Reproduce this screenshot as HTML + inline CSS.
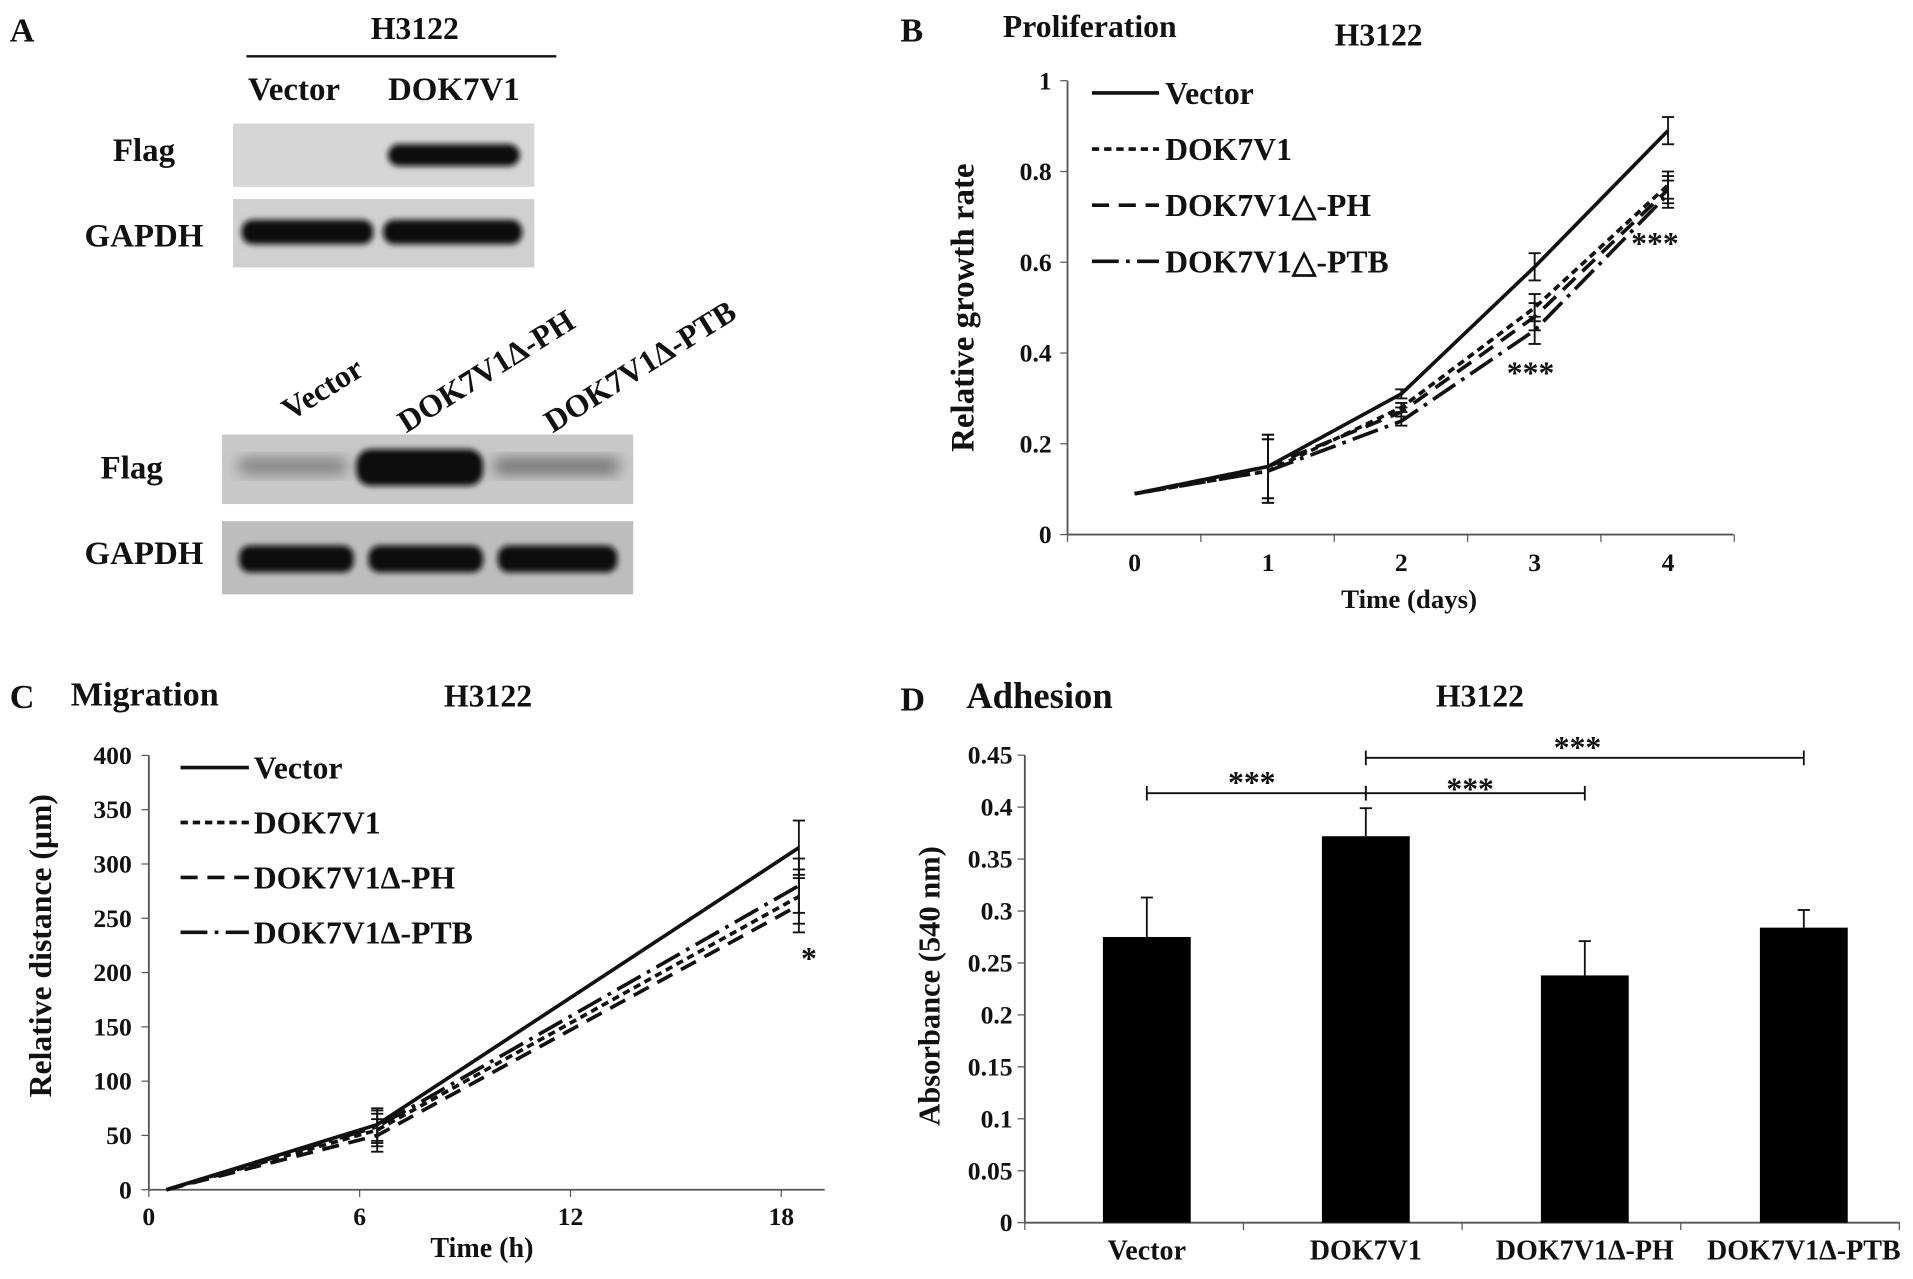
<!DOCTYPE html>
<html><head><meta charset="utf-8"><style>
html,body{margin:0;padding:0;background:#fff}
svg{display:block}
text{font-family:"Liberation Serif",serif;font-weight:bold;fill:#111}
</style></head><body>
<svg id="fig" width="1913" height="1279" viewBox="0 0 1568 1048" xmlns="http://www.w3.org/2000/svg">
<defs>
<filter id="blur" x="-20%" y="-50%" width="140%" height="200%"><feGaussianBlur stdDeviation="2.5"/></filter>
<filter id="blur2" x="-20%" y="-50%" width="140%" height="200%"><feGaussianBlur stdDeviation="6"/></filter>
</defs>
<g>
<text x="8" y="34" font-size="28">A</text>
<text x="340" y="32" font-size="26" text-anchor="middle">H3122</text>
<line x1="202" y1="46" x2="456" y2="46" stroke="#111" stroke-width="2"/>
<text x="241" y="82" font-size="27" text-anchor="middle">Vector</text>
<text x="372" y="82" font-size="27" text-anchor="middle">DOK7V1</text>
<text x="118" y="132" font-size="27" text-anchor="middle">Flag</text>
<text x="118" y="202" font-size="27" text-anchor="middle">GAPDH</text>
<rect x="191" y="101" width="247" height="52" fill="#d6d6d6"/>
<rect x="318" y="118" width="108" height="18" rx="9" fill="#111" filter="url(#blur)"/>
<rect x="191" y="163" width="247" height="56" fill="#d0d0d0"/>
<rect x="198" y="180" width="108" height="20" rx="9" fill="#111" filter="url(#blur)"/>
<rect x="314" y="180" width="114" height="20" rx="9" fill="#111" filter="url(#blur)"/>
<text transform="translate(238,345) rotate(-32)" font-size="26">Vector</text>
<text transform="translate(333,355) rotate(-32)" font-size="26">DOK7V1Δ-PH</text>
<text transform="translate(453,355) rotate(-32)" font-size="26">DOK7V1Δ-PTB</text>
<text x="108" y="392" font-size="27" text-anchor="middle">Flag</text>
<text x="118" y="462" font-size="27" text-anchor="middle">GAPDH</text>
<rect x="182" y="356" width="337" height="57" fill="#c8c8c8"/>
<rect x="195" y="376" width="90" height="12" rx="6" fill="#777" filter="url(#blur2)"/>
<rect x="292" y="368" width="104" height="30" rx="12" fill="#111" filter="url(#blur)"/>
<rect x="404" y="376" width="104" height="12" rx="6" fill="#666" filter="url(#blur2)"/>
<rect x="182" y="427" width="337" height="60" fill="#bdbdbd"/>
<rect x="196" y="447" width="94" height="22" rx="9" fill="#111" filter="url(#blur)"/>
<rect x="302" y="447" width="94" height="22" rx="9" fill="#111" filter="url(#blur)"/>
<rect x="408" y="447" width="98" height="22" rx="9" fill="#111" filter="url(#blur)"/>
</g>
<g id="pB"></g>
<g id="pC"></g>
<g id="pD"></g>
</svg>
<script>
const NS="http://www.w3.org/2000/svg";
// Panel B data
const bDays=[0,1,2,3,4];
const bVector=[0.09,0.15,0.31,0.59,0.89];
const bDok=[0.09,0.14,0.28,0.50,0.77];
const bPH=[0.09,0.15,0.27,0.48,0.76];
const bPTB=[0.09,0.14,0.25,0.45,0.75];
const bErr=[0.005,0.07,0.01,0.03,0.03];
const bYTicks=[0,0.2,0.4,0.6,0.8,1];
// Panel C data
const cTimes=[0.5,6.5,18.5];
const cVector=[0,60,315];
const cDok=[0,55,270];
const cPH=[0,50,262];
const cPTB=[0,58,280];
const cErr=[0,15,25];
const cXTicks=[0,6,12,18];
const cYTicks=[0,50,100,150,200,250,300,350,400];
// Panel D data
const dCats=["Vector","DOK7V1","DOK7V1Δ-PH","DOK7V1Δ-PTB"];
const dVals=[0.275,0.372,0.238,0.284];
const dErr=[0.038,0.027,0.033,0.017];
const dYTicks=[0,0.05,0.1,0.15,0.2,0.25,0.3,0.35,0.4,0.45];

function el(p,tag,a,txt){const e=document.createElementNS(NS,tag);for(const k in a)e.setAttribute(k,a[k]);if(txt!==undefined)e.textContent=txt;p.appendChild(e);return e;}
const dashes={solid:"",dok:"6,4",ph:"14,8",ptb:"22,6,3,6"};

(function(){
const g=document.getElementById('pB');
const X=d=>930+d*109.3, Y=v=>438-v*372;
let t;
t=el(g,'text',{x:738,y:34,'font-size':28},'B');
t=el(g,'text',{x:822,y:30,'font-size':26},'Proliferation');
t=el(g,'text',{x:1130,y:37,'font-size':26,'text-anchor':'middle'},'H3122');
el(g,'line',{x1:875,y1:Y(1),x2:875,y2:438,stroke:'#555','stroke-width':1.5});
el(g,'line',{x1:875,y1:438,x2:1421,y2:438,stroke:'#555','stroke-width':1.5});
bYTicks.forEach(v=>{el(g,'line',{x1:869,y1:Y(v),x2:875,y2:Y(v),stroke:'#555'});
 t=el(g,'text',{x:862,y:Y(v)+7,'font-size':21,'text-anchor':'end'},String(v));});
for(let i=0;i<=5;i++)el(g,'line',{x1:875+i*109.3,y1:438,x2:875+i*109.3,y2:444,stroke:'#555'});
bDays.forEach(d=>{t=el(g,'text',{x:X(d),y:468,'font-size':21,'text-anchor':'middle'},String(d));});
t=el(g,'text',{x:1155,y:498,'font-size':22,'text-anchor':'middle'},'Time (days)');
t=el(g,'text',{transform:'translate(798,252) rotate(-90)','font-size':27,'text-anchor':'middle'},'Relative  growth  rate');
const series=[[bVector,'solid','Vector'],[bDok,'dok','DOK7V1'],[bPH,'ph','DOK7V1△-PH'],[bPTB,'ptb','DOK7V1△-PTB']];
series.forEach((s,si)=>{
 const p=el(g,'polyline',{points:s[0].map((v,i)=>X(bDays[i])+','+Y(v)).join(' '),fill:'none',stroke:'#111','stroke-width':3,'stroke-dasharray':dashes[s[1]]});
 
 s[0].forEach((v,i)=>{if(bErr[i]<0.01)return;const x=X(bDays[i]);
  el(g,'line',{x1:x,y1:Y(v-bErr[i]),x2:x,y2:Y(v+bErr[i]),stroke:'#111','stroke-width':1.5});
  el(g,'line',{x1:x-5,y1:Y(v+bErr[i]),x2:x+5,y2:Y(v+bErr[i]),stroke:'#111','stroke-width':1.5});
  el(g,'line',{x1:x-5,y1:Y(v-bErr[i]),x2:x+5,y2:Y(v-bErr[i]),stroke:'#111','stroke-width':1.5});});
 const ly=76+si*46;
 el(g,'line',{x1:895,y1:ly,x2:950,y2:ly,stroke:'#111','stroke-width':3,'stroke-dasharray':dashes[s[1]]});
 t=el(g,'text',{x:955,y:ly+9,'font-size':26},s[2]);
});
t=el(g,'text',{x:1235,y:314,'font-size':26},'***');
t=el(g,'text',{x:1337,y:208,'font-size':26},'***');
})();

(function(){
const g=document.getElementById('pC');
const X=h=>122+h*28.8, Y=v=>975-v*0.89;
let t;
t=el(g,'text',{x:8,y:580,'font-size':28},'C');
t=el(g,'text',{x:58,y:578,'font-size':28},'Migration');
t=el(g,'text',{x:400,y:579,'font-size':26,'text-anchor':'middle'},'H3122');
el(g,'line',{x1:122,y1:Y(400),x2:122,y2:975,stroke:'#555','stroke-width':1.5});
el(g,'line',{x1:122,y1:975,x2:676,y2:975,stroke:'#555','stroke-width':1.5});
cYTicks.forEach(v=>{el(g,'line',{x1:116,y1:Y(v),x2:122,y2:Y(v),stroke:'#555'});
 t=el(g,'text',{x:108,y:Y(v)+7,'font-size':21,'text-anchor':'end'},String(v));});
cXTicks.forEach(h=>{el(g,'line',{x1:X(h),y1:975,x2:X(h),y2:981,stroke:'#555'});
 t=el(g,'text',{x:X(h),y:1004,'font-size':21,'text-anchor':'middle'},String(h));});
t=el(g,'text',{x:395,y:1030,'font-size':23,'text-anchor':'middle'},'Time (h)');
t=el(g,'text',{transform:'translate(42,775) rotate(-90)','font-size':26,'text-anchor':'middle'},'Relative distance (μm)');
const series=[[cVector,'solid','Vector'],[cDok,'dok','DOK7V1'],[cPH,'ph','DOK7V1Δ-PH'],[cPTB,'ptb','DOK7V1Δ-PTB']];
series.forEach((s,si)=>{
 const p=el(g,'polyline',{points:s[0].map((v,i)=>X(cTimes[i])+','+Y(v)).join(' '),fill:'none',stroke:'#111','stroke-width':3,'stroke-dasharray':dashes[s[1]]});
 
 s[0].forEach((v,i)=>{if(cErr[i]<1)return;const x=X(cTimes[i]);
  el(g,'line',{x1:x,y1:Y(v-cErr[i]),x2:x,y2:Y(v+cErr[i]),stroke:'#111','stroke-width':1.5});
  el(g,'line',{x1:x-5,y1:Y(v+cErr[i]),x2:x+5,y2:Y(v+cErr[i]),stroke:'#111','stroke-width':1.5});
  el(g,'line',{x1:x-5,y1:Y(v-cErr[i]),x2:x+5,y2:Y(v-cErr[i]),stroke:'#111','stroke-width':1.5});});
 const ly=629+si*45;
 el(g,'line',{x1:148,y1:ly,x2:204,y2:ly,stroke:'#111','stroke-width':3,'stroke-dasharray':dashes[s[1]]});
 t=el(g,'text',{x:208,y:ly+9,'font-size':26},s[2]);
});
t=el(g,'text',{x:663,y:794,'font-size':26,'text-anchor':'middle'},'*');
})();

(function(){
const g=document.getElementById('pD');
const Y=v=>1002-v*851.5, X=i=>928+i*179.5;
let t;
t=el(g,'text',{x:738,y:582,'font-size':28},'D');
t=el(g,'text',{x:792,y:580,'font-size':30},'Adhesion');
t=el(g,'text',{x:1213,y:579,'font-size':26,'text-anchor':'middle'},'H3122');
el(g,'line',{x1:840,y1:Y(0.45),x2:840,y2:1002,stroke:'#555','stroke-width':1.5});
el(g,'line',{x1:840,y1:1002,x2:1557,y2:1002,stroke:'#555','stroke-width':1.5});
dYTicks.forEach(v=>{el(g,'line',{x1:834,y1:Y(v),x2:840,y2:Y(v),stroke:'#555'});
 t=el(g,'text',{x:830,y:Y(v)+7,'font-size':21,'text-anchor':'end'},String(v));});
for(let i=0;i<=4;i++)el(g,'line',{x1:840+i*179.2,y1:1002,x2:840+i*179.2,y2:1008,stroke:'#555'});
t=el(g,'text',{transform:'translate(770,808) rotate(-90)','font-size':25,'text-anchor':'middle'},'Absorbance (540 nm)');
dVals.forEach((v,i)=>{const cx=X(i)+12;
 const r=el(g,'rect',{x:cx-36,y:Y(v),width:72,height:Y(0)-Y(v),fill:'#000'});
 
 el(g,'line',{x1:cx,y1:Y(v),x2:cx,y2:Y(v+dErr[i]),stroke:'#111','stroke-width':1.5});
 el(g,'line',{x1:cx-5,y1:Y(v+dErr[i]),x2:cx+5,y2:Y(v+dErr[i]),stroke:'#111','stroke-width':1.5});
 t=el(g,'text',{x:cx,y:1032,'font-size':23,'text-anchor':'middle'},dCats[i]);
});
const brs=[[0,1,650,1026,635],[1,2,650,1205,640],[1,3,621,1293,606]];
brs.forEach(b=>{const x1=X(b[0])+12,x2=X(b[1])+12;
 el(g,'line',{x1:x1,y1:b[2],x2:x2,y2:b[2],stroke:'#111','stroke-width':1.5});
 el(g,'line',{x1:x1,y1:b[2]-6,x2:x1,y2:b[2]+6,stroke:'#111','stroke-width':1.5});
 el(g,'line',{x1:x2,y1:b[2]-6,x2:x2,y2:b[2]+6,stroke:'#111','stroke-width':1.5});
 t=el(g,'text',{x:b[3],y:b[4]+15,'font-size':26,'text-anchor':'middle'},'***');});
})();
</script>
</body></html>
